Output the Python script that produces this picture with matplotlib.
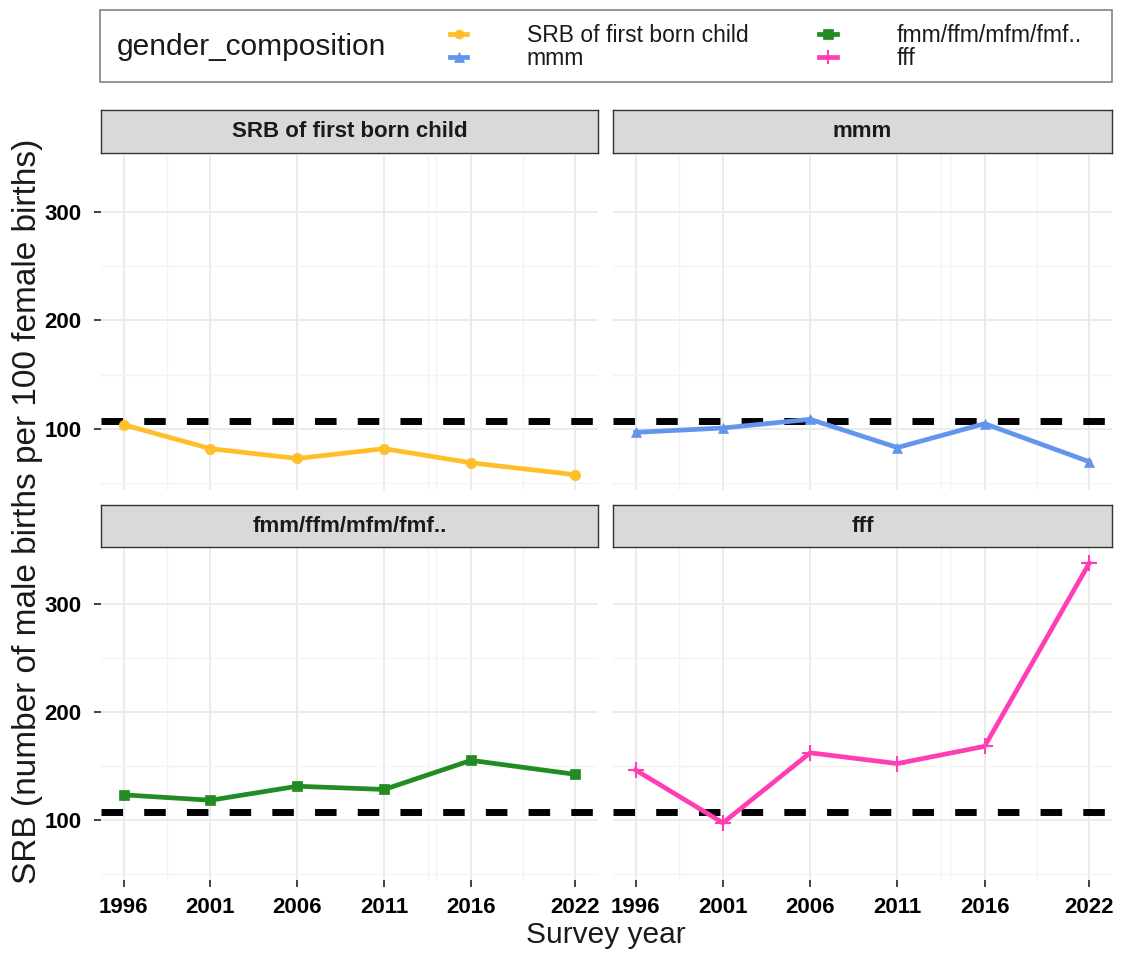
import matplotlib
matplotlib.use('Agg')
import matplotlib.pyplot as plt
from matplotlib.lines import Line2D
from matplotlib.patches import Rectangle
import numpy as np

plt.rcParams['font.family'] = ['Liberation Sans', 'DejaVu Sans']

# survey years and SRB values per gender composition
years = [1996, 2001, 2006, 2011, 2016, 2022]
groups = ['SRB of first born child', 'mmm', 'fmm/ffm/mfm/fmf..', 'fff']
srb_first = [104, 82, 73, 82, 69, 58]
srb_mmm = [97, 101, 109, 83, 105, 70]
srb_mixed = [123, 118, 131, 128, 155, 142]
srb_fff = [146, 97, 162, 152, 168, 338]
natural_srb = 107

series = [srb_first, srb_mmm, srb_mixed, srb_fff]
colors = ['#FFBF2A', '#6495ED', '#228B22', '#FF3EB5']
markers = ['o', '^', 's', '+']

W, H = 1121, 958
fig = plt.figure(figsize=(W / 100, H / 100), dpi=100)

def fx(px):
    return px / W

def fy(py):
    return 1 - py / H

# panel boxes in pixels: (left, top, right, bottom)
panels = [(101, 155, 598, 490), (613, 155, 1112, 490),
          (101, 548, 598, 880), (613, 548, 1112, 880)]
strips = [(101, 110, 598, 153), (613, 110, 1112, 153),
          (101, 505, 598, 547), (613, 505, 1112, 547)]

allv = np.concatenate([np.array(s) for s in series])
yr = allv.max() - allv.min()
ylim = (allv.min() - 0.05 * yr, allv.max() + 0.05 * yr)
xr = years[-1] - years[0]
xlim = (years[0] - 0.05 * xr, years[-1] + 0.05 * xr)

for i, (vals, col, mk, name) in enumerate(zip(series, colors, markers, groups)):
    l, t, r, b = panels[i]
    ax = fig.add_axes([fx(l), fy(b), fx(r) - fx(l), fy(t) - fy(b)])
    ax.set_xlim(xlim)
    ax.set_ylim(ylim)
    for s in ax.spines.values():
        s.set_visible(False)
    ax.set_xticks(years)
    ax.set_xticks([1998.5, 2013.5, 2014, 2019], minor=True)
    ax.set_yticks([100, 200, 300])
    ax.set_yticks([50, 150, 250], minor=True)
    ax.grid(True, which='major', color='#EBEBEB', linewidth=1.4, zorder=0)
    ax.grid(True, which='minor', color='#F3F3F3', linewidth=1.0, zorder=0)
    ax.set_axisbelow(True)
    ax.tick_params(which='minor', length=0)
    ax.tick_params(which='major', length=5, width=1.3, color='#333333',
                   labelsize=16, labelcolor='black')
    ax.tick_params(axis='y', pad=9)
    ax.tick_params(axis='x', pad=7)
    for lab in ax.get_xticklabels() + ax.get_yticklabels():
        lab.set_fontweight('bold')
    if i < 2:
        ax.tick_params(axis='x', which='major', length=0, labelbottom=False)
    if i % 2 == 1:
        ax.tick_params(axis='y', which='major', length=0, labelleft=False)

    ax.axhline(natural_srb, color='black', linewidth=5, dashes=(3.1, 3.05),
               dash_capstyle='butt', zorder=2)
    ax.plot(years, vals, color=col, linewidth=3.4, marker=mk,
            markersize=7.5 if mk != '+' else 12, markeredgewidth=1.5 if mk == '+' else 0.5,
            zorder=3, clip_on=False)

    # facet strip
    sl, st, sr, sb = strips[i]
    sax = fig.add_axes([fx(sl), fy(sb), fx(sr) - fx(sl), fy(st) - fy(sb)])
    sax.set_facecolor('#D9D9D9')
    sax.set_xticks([])
    sax.set_yticks([])
    for s in sax.spines.values():
        s.set_color('#333333')
        s.set_linewidth(1.0)
    sax.text(0.5, 0.5, name, ha='center', va='center', fontsize=16,
             fontweight='bold', color='#1A1A1A', transform=sax.transAxes)

# axis titles
fig.text(fx(606), fy(935), 'Survey year', ha='center', va='center',
         fontsize=21.5, color='#1A1A1A')
fig.text(fx(28), fy(511), 'SRB (number of male births per 100 female births)',
         ha='center', va='center', rotation=90, fontsize=24, color='#1A1A1A')

# legend box with title on the left
fig.patches.append(Rectangle((fx(100), fy(82)), fx(1112) - fx(100), fy(10) - fy(82),
                             transform=fig.transFigure, facecolor='white',
                             edgecolor='#8C8C8C', linewidth=1.3, zorder=0))
fig.text(fx(117), fy(47), 'gender_composition', ha='left', va='center',
         fontsize=21.5, color='#1A1A1A')

handles = []
for col, mk in zip(colors, markers):
    handles.append(Line2D([], [], color=col, linewidth=3.4, marker=mk,
                          markersize=6.5 if mk != '+' else 10,
                          markeredgewidth=1.5 if mk == '+' else 0.5))
leg = fig.legend(handles, groups, ncol=2, loc='center left',
                 bbox_to_anchor=(fx(450), fy(47)), frameon=False, fontsize=16.5,
                 handlelength=0.75, handletextpad=2.6, columnspacing=3.1,
                 labelspacing=0.0, borderpad=0, borderaxespad=0)
for txt in leg.get_texts():
    txt.set_color('#1A1A1A')

fig.savefig('out.png', dpi=100)
